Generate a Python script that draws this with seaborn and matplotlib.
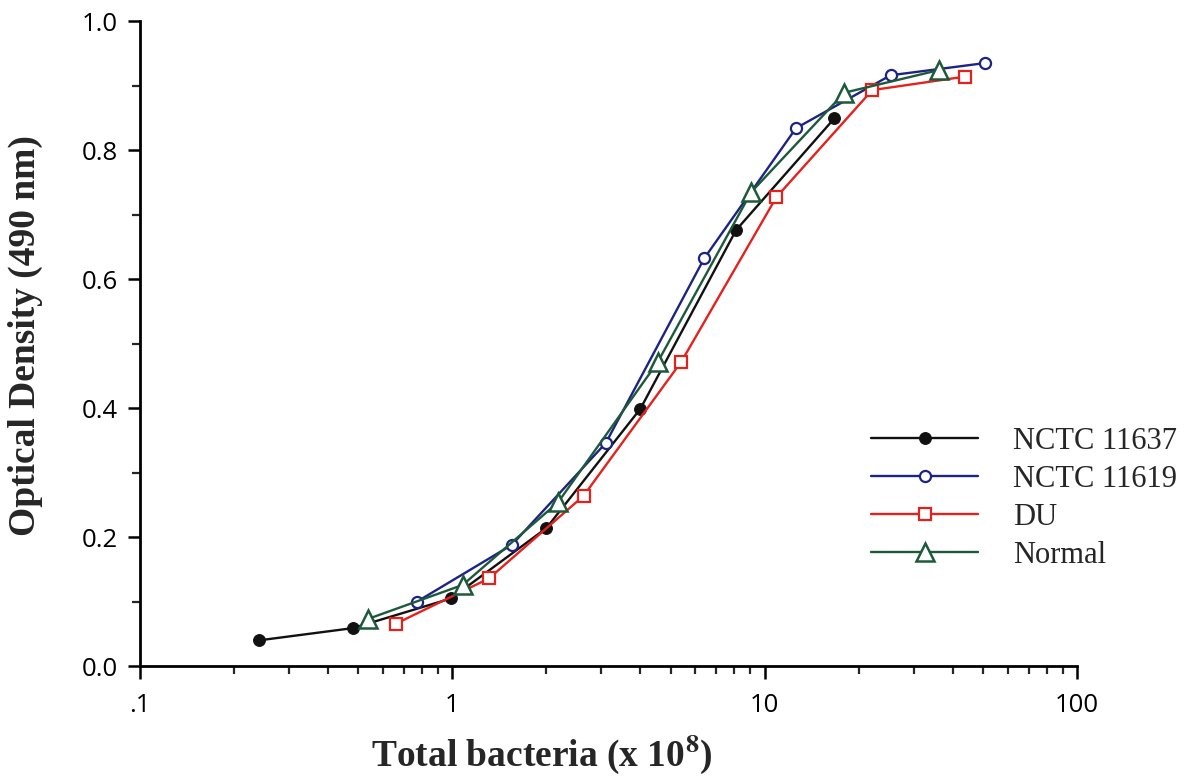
import numpy as np
import pandas as pd
import matplotlib
matplotlib.use("Agg")
import matplotlib.pyplot as plt
import seaborn as sns
from matplotlib.ticker import FixedLocator, FixedFormatter, MultipleLocator

# ---- data ----
series_names = ["NCTC 11637", "NCTC 11619", "DU", "Normal"]
x_11637 = [0.24, 0.48, 0.99, 2.0, 4.0, 8.1, 16.7]
y_11637 = [0.040, 0.059, 0.105, 0.214, 0.399, 0.676, 0.849]
x_11619 = [0.77, 1.55, 3.1, 6.4, 12.6, 25.3, 50.9]
y_11619 = [0.100, 0.188, 0.346, 0.632, 0.834, 0.916, 0.935]
x_du = [0.66, 1.31, 2.63, 5.41, 10.9, 22.1, 43.9]
y_du = [0.066, 0.136, 0.264, 0.472, 0.727, 0.893, 0.914]
x_normal = [0.535, 1.08, 2.18, 4.54, 9.06, 18.0, 36.1]
y_normal = [0.073, 0.126, 0.254, 0.471, 0.735, 0.889, 0.924]
x_ticks = [0.1, 1, 10, 100]
x_ticklabels = [".1", "1", "10", "100"]
y_ticks = [0.0, 0.2, 0.4, 0.6, 0.8, 1.0]
y_ticklabels = ["0.0", "0.2", "0.4", "0.6", "0.8", "1.0"]

frames = []
for name, xs, ys in zip(series_names,
                        [x_11637, x_11619, x_du, x_normal],
                        [y_11637, y_11619, y_du, y_normal]):
    frames.append(pd.DataFrame({"x": xs, "y": ys, "series": name}))
df = pd.concat(frames, ignore_index=True)

sns.set_theme(style="ticks")
plt.rcParams["font.family"] = ["DejaVu Sans"]
plt.rcParams["mathtext.fontset"] = "stix"

fig = plt.figure(figsize=(12.02, 7.81), dpi=100)
ax = fig.add_axes([0.1165, 0.147, 0.7795, 0.826])

styles = {
    "NCTC 11637": dict(color="#111111", marker="o", markerfacecolor="#111111",
                       markeredgecolor="#111111", markersize=8.5),
    "NCTC 11619": dict(color="#1c2385", marker="o", markerfacecolor="white",
                       markeredgecolor="#1c2385", markersize=8, markeredgewidth=1.6),
    "DU": dict(color="#e4221d", marker="s", markerfacecolor="white",
               markeredgecolor="#e4221d", markersize=8.5, markeredgewidth=1.6),
    "Normal": dict(color="#1d5a3a", marker="^", markerfacecolor="white",
                   markeredgecolor="#1d5a3a", markersize=12.5, markeredgewidth=1.8),
}

for name in series_names:
    sub = df[df["series"] == name]
    st = styles[name]
    sns.lineplot(data=sub, x="x", y="y", ax=ax, label=name, sort=False,
                 linewidth=1.7, **st)

ax.set_xscale("log")
ax.set_xlim(0.1, 100)
ax.set_ylim(0.0, 1.0)

ax.xaxis.set_major_locator(FixedLocator(x_ticks))
ax.xaxis.set_major_formatter(FixedFormatter(x_ticklabels))
minor = [m * 10.0 ** e for e in (-1, 0, 1) for m in range(2, 10)]
ax.xaxis.set_minor_locator(FixedLocator(minor))
ax.xaxis.set_minor_formatter(FixedFormatter([""] * len(minor)))
ax.yaxis.set_major_locator(FixedLocator(y_ticks))
ax.yaxis.set_major_formatter(FixedFormatter(y_ticklabels))
ax.yaxis.set_minor_locator(MultipleLocator(0.1))

for side in ["top", "right"]:
    ax.spines[side].set_visible(False)
for side in ["left", "bottom"]:
    ax.spines[side].set_linewidth(2.0)
    ax.spines[side].set_color("black")

ax.tick_params(axis="both", which="major", direction="out", length=9, width=1.8,
               labelsize=18.5, colors="black")
ax.tick_params(axis="y", which="major", pad=7)
ax.tick_params(axis="x", which="major", pad=10)
ax.tick_params(axis="both", which="minor", direction="out", length=6, width=1.6)
for lab in ax.get_xticklabels() + ax.get_yticklabels():
    lab.set_family(["Open Sans", "DejaVu Sans"])

ax.set_xlabel(r"Total bacteria (x 10$^{\mathbf{8}}$)", fontsize=27, fontweight="bold",
              family=["Liberation Serif", "DejaVu Serif"])
ax.xaxis.set_label_coords(0.429, -0.102)
ax.set_ylabel("Optical Density (490 nm)", fontsize=27, fontweight="bold",
              family=["Liberation Serif", "DejaVu Serif"])
ax.yaxis.set_label_coords(-0.104, 0.513)

leg = ax.legend(loc="upper left", bbox_to_anchor=(0.764, 0.395), frameon=False,
                handlelength=3.5, handletextpad=1.15, labelspacing=0.3,
                borderpad=0.0,
                prop={"family": ["Liberation Serif", "DejaVu Serif"], "size": 22},
                numpoints=1)

fig.savefig("out.png", dpi=100, facecolor="white")
